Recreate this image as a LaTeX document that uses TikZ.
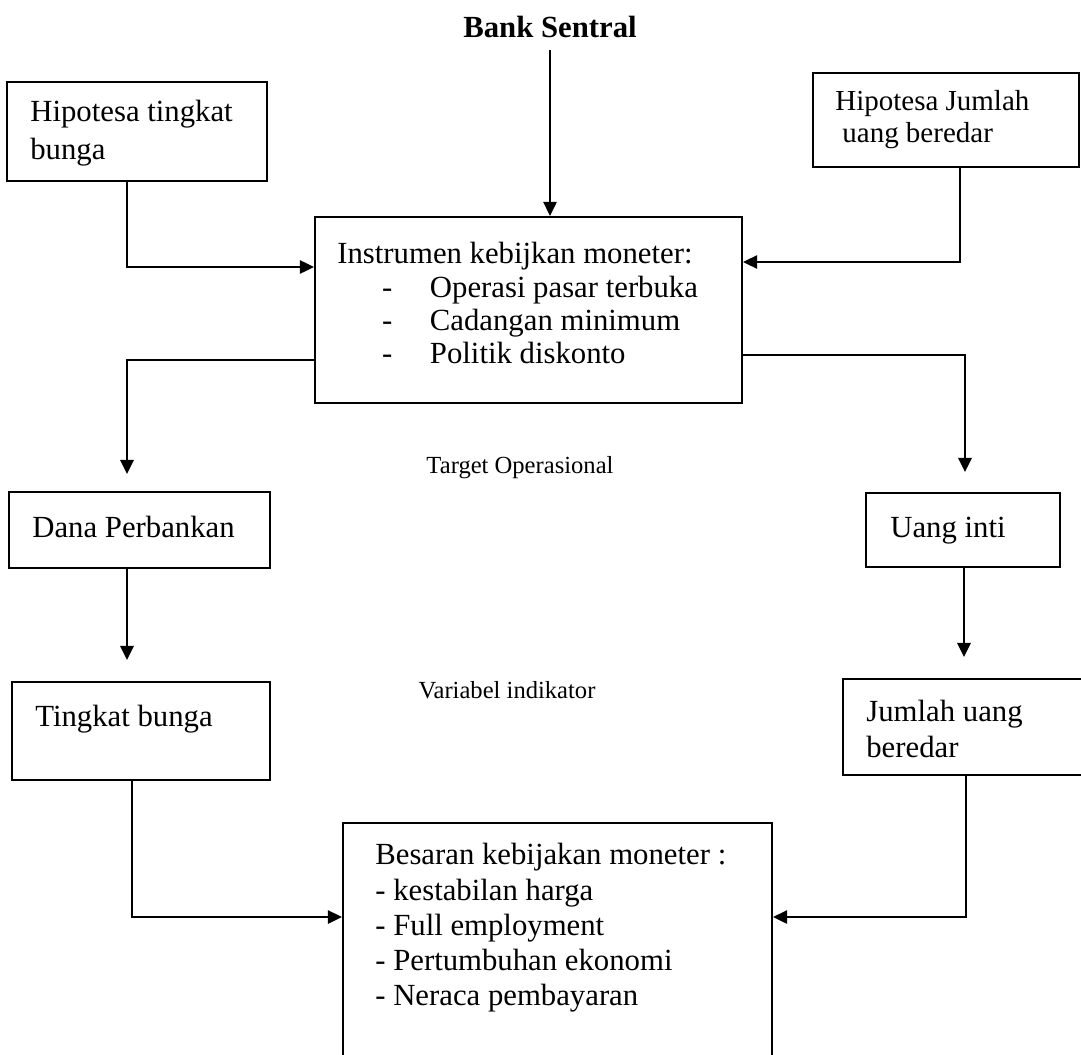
\documentclass[tikz,border=0pt]{standalone}
\usepackage{fontspec}
\setmainfont{Liberation Serif}
\usetikzlibrary{arrows.meta,fit}
\begin{document}
\begin{tikzpicture}[x=0.02cm,y=-0.02cm,
 box/.style={draw,line width=1.2pt,inner sep=0pt},
 txt/.style={inner sep=0pt,anchor=west,align=left,font=\fontsize{17.5}{21}\selectfont},
 lbl/.style={inner sep=0pt,font=\fontsize{14}{17}\selectfont},
 conn/.style={line width=1.3pt},
 arr/.style={conn,-{Triangle[length=8pt,width=7.5pt]}}]
\useasboundingbox (0,0) rectangle (1081,1054);
\fill[white] (0,0) rectangle (1081,1054);
\clip (0,0) rectangle (1081,1054);

% nodes
\node[inner sep=0pt,font=\bfseries\fontsize{17.5}{21}\selectfont] (bs) at (550,27) {Bank Sentral};

\node[box, fit={(7,82) (267,181)}] (hip1) {};
\node[txt,font=\fontsize{17.5}{22}\selectfont] (hip1t) at (30,133) {Hipotesa tingkat\\bunga};

\node[box, fit={(813,73) (1079,167)}] (hip2) {};
\node[txt,font=\fontsize{16.5}{18.2}\selectfont] (hip2t) at (835,120) {Hipotesa Jumlah\\\hspace*{4pt}uang beredar};

\node[box, fit={(315,217) (742,403)}] (ins) {};
\node[txt,font=\fontsize{17.5}{18.8}\selectfont] (inst) at (337,303) {Instrumen kebijkan moneter:\\
\hspace*{25.5pt}\makebox[27.2pt][l]{-}Operasi pasar terbuka\\
\hspace*{25.5pt}\makebox[27.2pt][l]{-}Cadangan minimum\\
\hspace*{25.5pt}\makebox[27.2pt][l]{-}Politik diskonto};

\node[lbl] (tgt) at (520,468) {Target Operasional};

\node[box, fit={(9,492) (270,568)}] (dana) {};
\node[txt] (danat) at (32,527) {Dana Perbankan};

\node[box, fit={(866,493) (1060,567)}] (inti) {};
\node[txt] (intit) at (890,531) {Uang inti};

\node[lbl] (var) at (507,690) {Variabel indikator};

\node[box, fit={(12,682) (270,780)}] (tb) {};
\node[txt] (tbt) at (35,719) {Tingkat bunga};

\node[box, fit={(843,679) (1095,775)}] (jub) {};
\node[txt,font=\fontsize{17.5}{20}\selectfont] (jubt) at (866,729) {Jumlah uang\\beredar};

\node[box, fit={(343,823) (772,1080)}] (bes) {};
\node[txt,font=\fontsize{17.5}{20.1}\selectfont] (best) at (375,928) {Besaran kebijakan moneter :\\
- kestabilan harga\\
- Full employment\\
- Pertumbuhan ekonomi\\
- Neraca pembayaran};

% connectors
\draw[arr] ([yshift=-7pt]bs.south) -- (bs.south |- ins.north);

\coordinate (c1) at (127,267);
\draw[arr] (hip1.south -| c1) -- (c1) -- (ins.west |- c1);

\coordinate (c2) at (960,262);
\draw[arr] (hip2.south -| c2) -- (c2) -- (ins.east |- c2);

\coordinate (c3) at (127,360);
\coordinate (e3) at (127,474);
\draw[arr] (ins.west |- c3) -- (c3) -- (e3);

\coordinate (c4) at (965,355);
\coordinate (e4) at (965,472);
\draw[arr] (ins.east |- c4) -- (c4) -- (e4);

\coordinate (e5) at (127,660);
\draw[arr] (dana.south -| e5) -- (e5);

\coordinate (e6) at (964,657);
\draw[arr] (inti.south -| e6) -- (e6);

\coordinate (c7) at (132,917);
\draw[arr] (tb.south -| c7) -- (c7) -- (bes.west |- c7);

\coordinate (c8) at (966,917);
\draw[arr] (jub.south -| c8) -- (c8) -- (bes.east |- c8);
\end{tikzpicture}
\end{document}
